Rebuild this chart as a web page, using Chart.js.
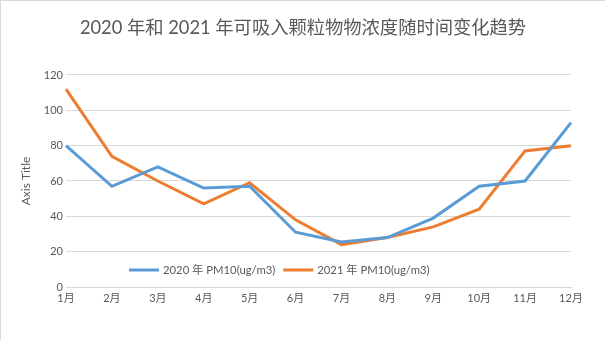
<!DOCTYPE html>
<html>
<head>
<meta charset="utf-8">
<script src="https://cdn.jsdelivr.net/npm/chart.js@4/dist/chart.umd.min.js"></script>
<style>
  html, body { margin: 0; padding: 0; background: #fff; }
  #wrap {
    width: 605px; height: 340px; box-sizing: border-box;
    border-top: 1px solid #d9d9d9; border-left: 1px solid #d9d9d9;
  }
  #wrap canvas { display: block; }
</style>
</head>
<body>
<div id="wrap"><canvas id="pm10Chart" width="604" height="339"></canvas></div>
<script>
const months = ['1月', '2月', '3月', '4月', '5月', '6月', '7月', '8月', '9月', '10月', '11月', '12月'];
const pm10_2020 = [80, 57, 68, 56, 57, 31, 25.5, 28, 39, 57, 60, 93];
const pm10_2021 = [112, 74, 60, 47, 59, 38, 24, 28, 34, 44, 77, 80];
const seriesNames = ['2020 年 PM10(ug/m3)', '2021 年 PM10(ug/m3)'];
const yTicks = { min: 0, max: 120, step: 20 };

const FONT = "Lato, 'Noto Sans CJK SC', sans-serif";
const GREY = '#595959';

// legend drawn inside the plot area, like the Excel original
const innerLegend = {
    id: 'innerLegend',
    afterDraw: function (chart) {
        const ctx = chart.ctx;
        const y = 269;
        let x = 128;
        ctx.save();
        ctx.font = '11.3px ' + FONT;
        ctx.textBaseline = 'middle';
        chart.data.datasets.forEach(function (ds) {
            ctx.strokeStyle = ds.borderColor;
            ctx.lineWidth = 3;
            ctx.beginPath();
            ctx.moveTo(x, y);
            ctx.lineTo(x + 30, y);
            ctx.stroke();
            x += 34;
            ctx.fillStyle = GREY;
            ctx.fillText(ds.label, x, y);
            x += ctx.measureText(ds.label).width + 8;
        });
        ctx.restore();
    }
};

new Chart(document.getElementById('pm10Chart'), {
    type: 'line',
    data: {
        labels: months,
        datasets: [{
            label: seriesNames[0],
            data: pm10_2020,
            borderColor: '#5B9BD5',
            backgroundColor: '#5B9BD5',
            borderWidth: 3,
            pointRadius: 0,
            tension: 0
        }, {
            label: seriesNames[1],
            data: pm10_2021,
            borderColor: '#ED7D31',
            backgroundColor: '#ED7D31',
            borderWidth: 3,
            pointRadius: 0,
            tension: 0
        }]
    },
    options: {
        responsive: false,
        animation: false,
        layout: {
            padding: { left: 10, right: 10, top: 0, bottom: 23 }
        },
        plugins: {
            legend: { display: false },
            tooltip: { enabled: false },
            title: {
                display: true,
                text: '2020 年和 2021 年可吸入颗粒物物浓度随时间变化趋势',
                color: GREY,
                font: { family: FONT, size: 18.3, weight: 'normal' },
                padding: { top: 16, bottom: 36 }
            }
        },
        scales: {
            x: {
                grid: { display: false, drawTicks: false },
                border: { color: '#d9d9d9' },
                ticks: {
                    color: GREY,
                    font: { family: FONT, size: 11 },
                    padding: 5,
                    maxRotation: 0
                },
                afterFit: function (s) { s.height = 30; }
            },
            y: {
                min: yTicks.min,
                max: yTicks.max,
                grid: { color: '#d9d9d9', drawTicks: false },
                border: { display: false },
                ticks: {
                    stepSize: yTicks.step,
                    color: GREY,
                    font: { family: FONT, size: 11 },
                    padding: 3
                },
                title: {
                    display: true,
                    text: 'Axis Title',
                    color: GREY,
                    font: { family: FONT, size: 12 },
                    padding: { top: 8, bottom: 0 }
                },
                afterFit: function (s) { s.width = 55; }
            },
            // empty right-hand box, only reserves the margin on the right
            spacer: {
                type: 'linear',
                position: 'right',
                grid: { display: false, drawTicks: false },
                border: { display: false },
                ticks: { display: false },
                afterFit: function (s) { s.width = 24; }
            }
        }
    },
    plugins: [innerLegend]
});
</script>
</body>
</html>
